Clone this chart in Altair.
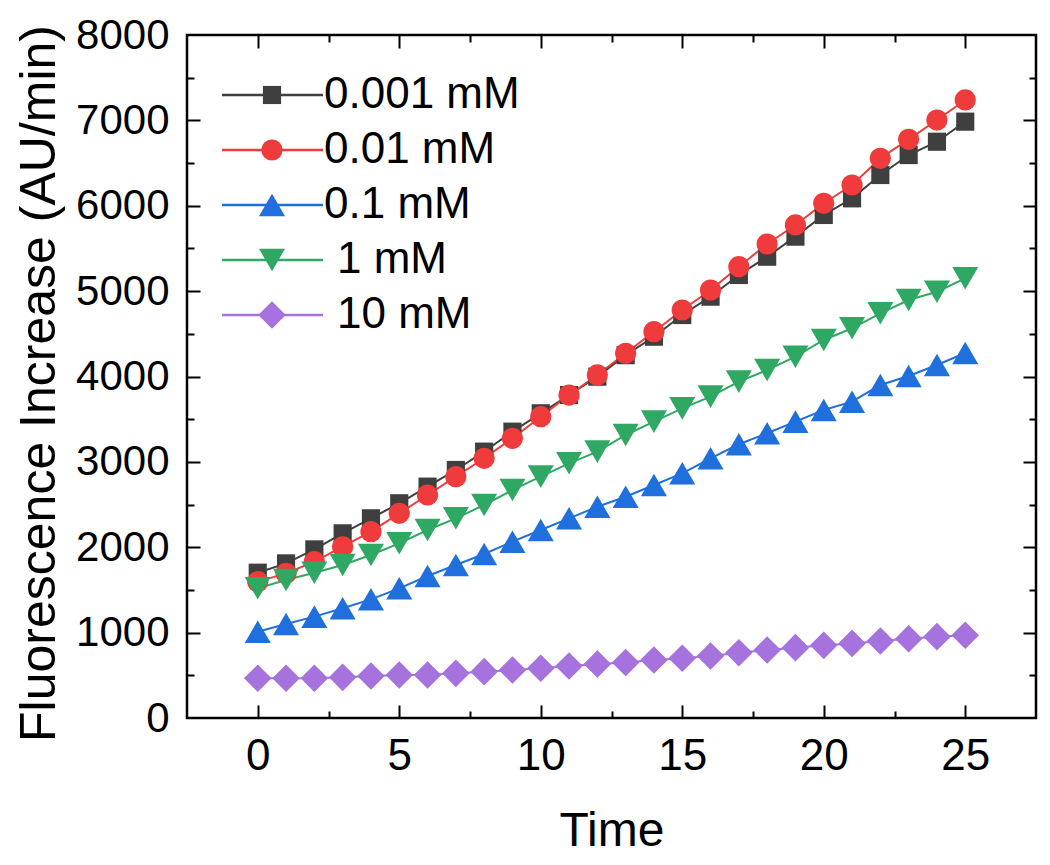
import altair as alt
import pandas as pd

# ---------------- data ----------------
time = list(range(26))
series_names = ["0.001 mM", "0.01 mM", "0.1 mM", "1 mM", "10 mM"]
legend_labels = ["0.001 mM", "0.01 mM", "0.1 mM", "1 mM", "10 mM"]

v_0001 = [1702, 1811, 1975, 2163, 2339, 2515, 2710, 2905, 3120, 3354, 3569, 3783, 3998,
          4250, 4466, 4720, 4935, 5189, 5403, 5638, 5892, 6087, 6360, 6594, 6750, 6985]
v_001 = [1597, 1694, 1831, 2006, 2182, 2397, 2612, 2827, 3042, 3276, 3529, 3783, 4018,
         4272, 4525, 4779, 5013, 5286, 5552, 5775, 6029, 6243, 6556, 6778, 7004, 7239]
v_01 = [1011, 1101, 1187, 1285, 1390, 1519, 1663, 1792, 1921, 2065, 2202, 2339, 2475,
        2592, 2729, 2866, 3042, 3206, 3335, 3471, 3608, 3705, 3900, 4006, 4135, 4275]
v_1 = [1519, 1616, 1702, 1792, 1909, 2046, 2202, 2339, 2495, 2671, 2827, 2983, 3120,
       3315, 3471, 3627, 3764, 3940, 4076, 4232, 4428, 4565, 4740, 4896, 4993, 5150]
v_10 = [465, 465, 465, 476, 492, 503, 503, 523, 543, 562, 582, 609, 632,
        650, 679, 699, 726, 765, 796, 824, 851, 874, 902, 929, 953, 969]

x_major = [0, 5, 10, 15, 20, 25]
x_all_ticks = [0, 2.5, 5, 7.5, 10, 12.5, 15, 17.5, 20, 22.5, 25]
y_major = [0, 1000, 2000, 3000, 4000, 5000, 6000, 7000, 8000]
y_all_ticks = [500, 1000, 1500, 2000, 2500, 3000, 3500, 4000, 4500, 5000, 5500, 6000, 6500, 7000, 7500]

# ---------------- styles ----------------
colors = ["#3f3f3f", "#ef3b3b", "#1f6fdc", "#2fa864", "#a672de"]
shapes = ["square", "circle", "triangle-up", "triangle-down", "diamond"]
sizes = [330, 450, 680, 680, 760]

rows = []
for name, vals in zip(series_names, [v_0001, v_001, v_01, v_1, v_10]):
    for t, v in zip(time, vals):
        rows.append({"series": name, "time": t, "value": v})
df = pd.DataFrame(rows)
leg = pd.DataFrame({"series": series_names, "label": legend_labels, "idx": list(range(5))})

W, H = 849, 683
FONT = "Liberation Sans"
xs = alt.Scale(domain=[-2.5, 27.5], nice=False, zero=False)
ys = alt.Scale(domain=[0, 8000], nice=False, zero=False)

color = alt.Color("series:N", scale=alt.Scale(domain=series_names, range=colors), legend=None)
shape = alt.Shape("series:N", scale=alt.Scale(domain=series_names, range=shapes), legend=None)
size = alt.Size("series:N", scale=alt.Scale(type="ordinal", domain=series_names, range=sizes),
                legend=None)

x_main = alt.X("time:Q", scale=xs, axis=alt.Axis(
    orient="bottom", values=x_major, ticks=False, domain=False, grid=False,
    labelFontSize=44, labelPadding=16, labelFlush=False, labelColor="black", labelFont=FONT,
    title="Time", titleFontSize=48, titleFontWeight="normal", titleColor="black", titleFont=FONT,
    titleY=127, titleBaseline="alphabetic"))
y_main = alt.Y("value:Q", scale=ys, axis=alt.Axis(
    orient="left", values=y_major, format="d", ticks=False, domain=False, grid=False,
    labelFontSize=42, labelPadding=18, labelFlush=False, labelColor="black", labelFont=FONT,
    title="Fluorescence Increase (AU/min)", titleFontSize=50, titleFontWeight="normal",
    titleColor="black", titleFont=FONT, titleX=-133, titleY=348, titleAngle=-90,
    titleAlign="center", titleBaseline="alphabetic"))

lines = alt.Chart(df).mark_line(strokeWidth=2).encode(
    x=x_main, y=y_main, color=color, detail="series:N")
points = alt.Chart(df).mark_point(filled=True, opacity=1, strokeWidth=0).encode(
    x=x_main, y=y_main, color=color, shape=shape, size=size)

leg_base = alt.Chart(leg).transform_calculate(
    ly="60 + datum.idx * 55",
    tx="datum.idx >= 3 ? 150 : 137",
)
leg_rule = leg_base.mark_rule(strokeWidth=2.5).encode(
    x=alt.value(35), x2=alt.value(136), y=alt.Y("ly:Q", scale=None), color=color)
leg_pt = leg_base.mark_point(filled=True, opacity=1, strokeWidth=0).encode(
    x=alt.value(85), y=alt.Y("ly:Q", scale=None), color=color, shape=shape, size=size)
leg_txt = leg_base.mark_text(align="left", baseline="middle", fontSize=44, font=FONT,
                             color="black").encode(
    x=alt.X("tx:Q", scale=None), y=alt.Y("ly:Q", scale=None), text="label:N")

main = alt.layer(lines, points, leg_rule, leg_pt, leg_txt)

x_cond = {"condition": {"test": "datum.value % 5 === 0", "value": 13}, "value": 7}
y_cond = {"condition": {"test": "datum.value % 1000 === 0", "value": 13}, "value": 7}


def tick_layer(x_orient, y_orient):
    return alt.Chart(df).mark_point(opacity=0).encode(
        x=alt.X("time:Q", scale=xs, axis=alt.Axis(
            orient=x_orient, offset=-H, values=x_all_ticks, labels=False, domain=False,
            grid=False, title="", tickSize=x_cond, tickWidth=2, tickColor="black")),
        y=alt.Y("value:Q", scale=ys, axis=alt.Axis(
            orient=y_orient, offset=-W, values=y_all_ticks, labels=False, domain=False,
            grid=False, title="", tickSize=y_cond, tickWidth=2, tickColor="black")),
    )


chart = alt.layer(
    main, tick_layer("top", "right"), tick_layer("bottom", "left")
).resolve_scale(x="independent", y="independent").properties(
    width=W, height=H,
    padding={"left": 179, "top": 27, "right": 6, "bottom": 139},
    autosize=alt.AutoSizeParams(type="none"),
).configure(font=FONT).configure_view(stroke="black", strokeWidth=2.5)

chart.save("out.html", embed_options={"renderer": "svg", "actions": False})
